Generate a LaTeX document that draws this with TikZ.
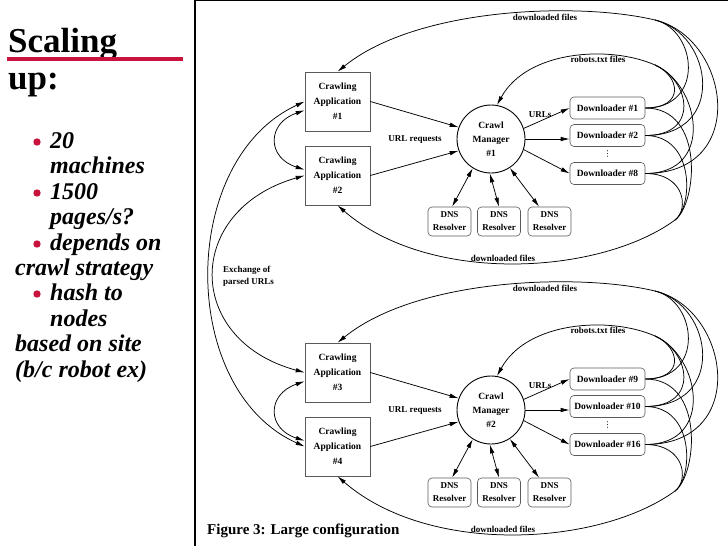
\documentclass[tikz,border=0pt]{standalone}
\usepackage{fontspec}
\setmainfont{Liberation Serif}
\newfontfamily\symfont{DejaVu Sans}
\usepackage{tikz}
\usetikzlibrary{arrows.meta}
\usetikzlibrary{positioning}
\usepackage{color}
\definecolor{crimson}{RGB}{200, 20, 60}
\definecolor{boxgray}{RGB}{90, 90, 90}

\tikzset{
    appbox/.style={draw=boxgray, line width=0.6pt, minimum width=65pt, minimum height=59pt,
                   inner sep=1pt, align=center, font=\bfseries\fontsize{9.5}{15}\selectfont},
    mgrcircle/.style={draw, circle, line width=0.9pt, minimum size=68pt, inner sep=0pt,
                   align=center, font=\bfseries\fontsize{9.5}{14}\selectfont},
    dlbox/.style={draw=boxgray, line width=0.6pt, rounded corners=4pt, minimum width=75pt,
                   minimum height=22pt, inner sep=2pt, font=\bfseries\fontsize{9.5}{11}\selectfont},
    dnsbox/.style={draw=boxgray, line width=0.6pt, rounded corners=4pt, minimum width=43pt,
                   minimum height=29pt, inner sep=1pt, align=center, font=\bfseries\fontsize{9}{13}\selectfont},
    lbl/.style={font=\bfseries\fontsize{9}{12}\selectfont, inner sep=1pt},
    flow/.style={line width=0.75pt, -{Latex[length=9pt,width=4.5pt]}},
    twoway/.style={line width=0.75pt, {Latex[length=9pt,width=4.5pt]}-{Latex[length=9pt,width=4.5pt]}},
    fan/.style={line width=0.75pt},
    slidetext/.style={anchor=base west, inner sep=0pt, font=\bfseries\itshape\fontsize{24}{26}\selectfont},
}

\begin{document}
\begin{tikzpicture}[x=1pt, y=-1pt]
    \useasboundingbox (0,0) rectangle (728,546);
    % Slide title and bullets
    \node[anchor=base west, inner sep=0pt, font=\bfseries\fontsize{35}{40}\selectfont] (title1) at (8,52) {Scaling};
    \draw[crimson, line width=3.5pt]                     (7,59) -- (183,59);
    \node[anchor=base west, inner sep=0pt, font=\bfseries\fontsize{35}{40}\selectfont] (title2) at (8,89) {up:};
    \fill[crimson] (37,142) circle (3.7pt);
    \fill[crimson] (37,193) circle (3.7pt);
    \fill[crimson] (37,244) circle (3.7pt);
    \fill[crimson] (37,294) circle (3.7pt);
    \node[slidetext] (item1)  at (50,148) {20};
    \node[slidetext] (item2)  at (50,173) {machines};
    \node[slidetext] (item3)  at (50,199) {1500};
    \node[slidetext] (item4)  at (50,224) {pages/s?};
    \node[slidetext] (item5)  at (50,250) {depends on};
    \node[slidetext] (item6)  at (15,275) {crawl strategy};
    \node[slidetext] (item7)  at (50,300) {hash to};
    \node[slidetext] (item8)  at (50,326) {nodes};
    \node[slidetext] (item9)  at (15,351) {based on site};
    \node[slidetext] (item10) at (15,377) {(b/c robot ex)};
    % Figure frame and caption
    \draw[line width=1.2pt] (195,546) -- (195,0.6) -- (728,0.6);
    \node[anchor=base west, inner sep=0pt, font=\bfseries\fontsize{15}{18}\selectfont] (caption) at (207,534) {Figure 3: Large configuration};
    % One crawl manager with its applications, downloaders and resolvers
    \foreach \g/\dy/\appA/\appB/\na/\nb/\nc in {1/0/1/2/1/2/8, 2/271/3/4/9/10/16} {
        \node[appbox]    (app\appA) at (337.5,101.5+\dy) {Crawling\\Application\\\#\appA};
        \node[appbox]    (app\appB) at (337.5,175.5+\dy) {Crawling\\Application\\\#\appB};
        \node[mgrcircle] (mgr\g)    at (491,139+\dy)     {Crawl\\Manager\\\#\g};
        \node[dlbox]     (dla\g)    at (607.5,108+\dy)   {Downloader \#\na};
        \node[dlbox]     (dlb\g)    at (607.5,135.5+\dy) {Downloader \#\nb};
        \node[dlbox]     (dlc\g)    at (607.5,173.5+\dy) {Downloader \#\nc};
        \node[inner sep=0pt, font=\symfont\fontsize{8}{8}\selectfont] (dots\g) at (607.5,154.5+\dy) {⋮};
        \node[dnsbox]    (dnsa\g)   at (449.5,221.5+\dy) {DNS\\Resolver};
        \node[dnsbox]    (dnsb\g)   at (499,221.5+\dy)   {DNS\\Resolver};
        \node[dnsbox]    (dnsc\g)   at (549.5,221.5+\dy) {DNS\\Resolver};
        \node[lbl]       (urlreq\g) at (415,140+\dy)     {URL requests};
        \node[lbl]       (urls\g)   at (540,115+\dy)     {URLs};
        \node[lbl]       (dltop\g)  at (545,17+\dy)      {downloaded files};
        \node[lbl]       (robots\g) at (598,59+\dy)      {robots.txt files};
        \node[lbl]       (dlbot\g)  at (503,258+\dy)     {downloaded files};
        % Requests, URLs and name lookups
        \draw[flow]   (app\appA.east) -- (mgr\g.160);
        \draw[flow]   (app\appB.east) -- (mgr\g.200);
        \draw[flow]   (mgr\g.18)      -- (dla\g.west);
        \draw[flow]   (mgr\g.east)    -- (mgr\g.east -| dlb\g.west);
        \draw[flow]   (mgr\g.-18)     -- (dlc\g.west);
        \draw[twoway] (mgr\g.238)     -- (dnsa\g.80);
        \draw[twoway] (mgr\g.268)     -- (dnsb\g.north);
        \draw[twoway] (mgr\g.303)     -- (dnsc\g.125);
        \draw[twoway] (app\appA.195) .. controls +(-38,13) and +(-38,-12) .. (app\appB.170);
        % Files coming back from the downloaders
        \coordinate (jt\g) at (655,20+\dy);
        \coordinate (jr\g) at (655,65+\dy);
        \coordinate (jb\g) at (675,220+\dy);
        \foreach \k/\ta/\tb/\ra/\rb/\ba/\bb in {a/60/42/40/25/60/22, b/82/58/55/35/50/18, c/105/75/70/45/40/14} {
            \draw[fan] (dl\k\g.east) .. controls +(\ta,0) and +(\tb,0.24*\tb)  .. (jt\g);
            \draw[fan] (dl\k\g.east) .. controls +(\ra,0) and +(\rb,0.44*\rb)  .. (jr\g);
            \draw[fan] (dl\k\g.east) .. controls +(\ba,0) and +(\bb,-0.73*\bb) .. (jb\g);
        }
        \draw[flow] (jt\g) .. controls +(-75,-18) and +(80,-65) .. (app\appA.north);
        \draw[flow] (jr\g) .. controls +(-45,-20) and +(30,-55) .. (mgr\g.80);
        \draw[flow] (jb\g) .. controls +(-75,55)  and +(92,80)  .. (app\appB.south);
    }
    % Exchange of parsed URLs between the two groups
    \draw[twoway] (app1.west) .. controls (178,160) and (178,390) .. (app4.west);
    \draw[twoway] (app2.west) .. controls (184,210) and (184,340) .. (app3.west);
    \node[lbl, align=left, anchor=west] (exchange) at (222,276) {Exchange of\\parsed URLs};
\end{tikzpicture}
\end{document}
